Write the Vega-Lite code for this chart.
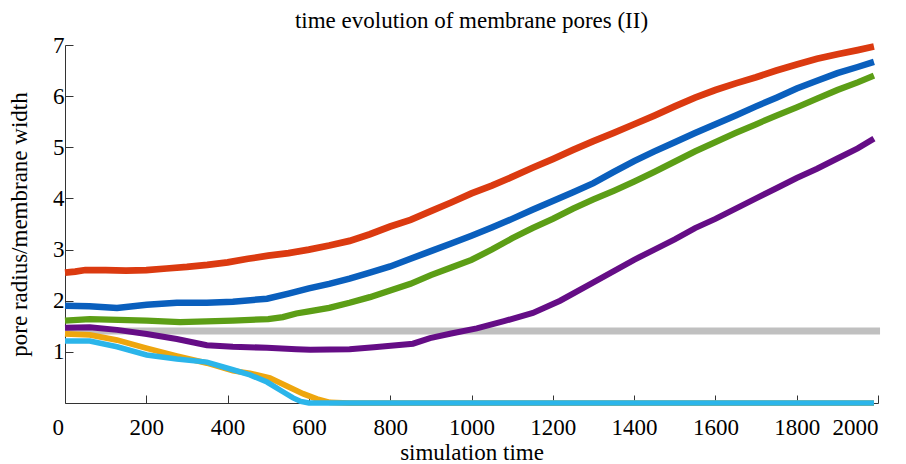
{
  "$schema": "https://vega.github.io/schema/vega-lite/v6.json",
  "width": 813,
  "height": 358,
  "autosize": {"type": "none"},
  "padding": {"left": 65, "top": 45, "right": 28, "bottom": 61},
  "background": "white",
  "title": {"text": "time evolution of membrane pores (II)", "font": "Liberation Serif", "fontSize": 23, "fontWeight": "normal", "color": "#000000", "offset": 0},
  "config": {"view": {"stroke": null}},
  "data": {"values": [
    {"s": "s1", "x": 0, "y": 1.41}, {"s": "s1", "x": 2005, "y": 1.41},

    {"s": "s2", "x": 0, "y": 2.55}, {"s": "s2", "x": 25, "y": 2.57}, {"s": "s2", "x": 50, "y": 2.6}, {"s": "s2", "x": 100, "y": 2.6}, {"s": "s2", "x": 150, "y": 2.59}, {"s": "s2", "x": 200, "y": 2.6}, {"s": "s2", "x": 250, "y": 2.63}, {"s": "s2", "x": 300, "y": 2.66}, {"s": "s2", "x": 350, "y": 2.7}, {"s": "s2", "x": 400, "y": 2.75}, {"s": "s2", "x": 450, "y": 2.82}, {"s": "s2", "x": 500, "y": 2.88}, {"s": "s2", "x": 550, "y": 2.93}, {"s": "s2", "x": 600, "y": 3.0}, {"s": "s2", "x": 650, "y": 3.08}, {"s": "s2", "x": 700, "y": 3.17}, {"s": "s2", "x": 750, "y": 3.3}, {"s": "s2", "x": 800, "y": 3.45}, {"s": "s2", "x": 850, "y": 3.58}, {"s": "s2", "x": 900, "y": 3.75}, {"s": "s2", "x": 950, "y": 3.92}, {"s": "s2", "x": 1000, "y": 4.1}, {"s": "s2", "x": 1050, "y": 4.25}, {"s": "s2", "x": 1100, "y": 4.42}, {"s": "s2", "x": 1150, "y": 4.6}, {"s": "s2", "x": 1200, "y": 4.77}, {"s": "s2", "x": 1250, "y": 4.95}, {"s": "s2", "x": 1300, "y": 5.12}, {"s": "s2", "x": 1350, "y": 5.28}, {"s": "s2", "x": 1400, "y": 5.45}, {"s": "s2", "x": 1450, "y": 5.62}, {"s": "s2", "x": 1500, "y": 5.8}, {"s": "s2", "x": 1550, "y": 5.97}, {"s": "s2", "x": 1600, "y": 6.12}, {"s": "s2", "x": 1650, "y": 6.25}, {"s": "s2", "x": 1700, "y": 6.37}, {"s": "s2", "x": 1750, "y": 6.5}, {"s": "s2", "x": 1800, "y": 6.62}, {"s": "s2", "x": 1850, "y": 6.73}, {"s": "s2", "x": 1900, "y": 6.82}, {"s": "s2", "x": 1950, "y": 6.9}, {"s": "s2", "x": 1990, "y": 6.97},

    {"s": "s3", "x": 0, "y": 1.9}, {"s": "s3", "x": 60, "y": 1.89}, {"s": "s3", "x": 128, "y": 1.86}, {"s": "s3", "x": 201, "y": 1.92}, {"s": "s3", "x": 275, "y": 1.96}, {"s": "s3", "x": 349, "y": 1.96}, {"s": "s3", "x": 413, "y": 1.98}, {"s": "s3", "x": 497, "y": 2.04}, {"s": "s3", "x": 550, "y": 2.14}, {"s": "s3", "x": 600, "y": 2.24}, {"s": "s3", "x": 650, "y": 2.33}, {"s": "s3", "x": 700, "y": 2.43}, {"s": "s3", "x": 750, "y": 2.55}, {"s": "s3", "x": 800, "y": 2.67}, {"s": "s3", "x": 850, "y": 2.82}, {"s": "s3", "x": 900, "y": 2.97}, {"s": "s3", "x": 950, "y": 3.12}, {"s": "s3", "x": 1000, "y": 3.27}, {"s": "s3", "x": 1050, "y": 3.43}, {"s": "s3", "x": 1100, "y": 3.6}, {"s": "s3", "x": 1150, "y": 3.78}, {"s": "s3", "x": 1200, "y": 3.95}, {"s": "s3", "x": 1250, "y": 4.12}, {"s": "s3", "x": 1300, "y": 4.3}, {"s": "s3", "x": 1350, "y": 4.52}, {"s": "s3", "x": 1400, "y": 4.73}, {"s": "s3", "x": 1450, "y": 4.92}, {"s": "s3", "x": 1500, "y": 5.1}, {"s": "s3", "x": 1550, "y": 5.28}, {"s": "s3", "x": 1600, "y": 5.45}, {"s": "s3", "x": 1650, "y": 5.62}, {"s": "s3", "x": 1700, "y": 5.8}, {"s": "s3", "x": 1750, "y": 5.97}, {"s": "s3", "x": 1800, "y": 6.15}, {"s": "s3", "x": 1850, "y": 6.3}, {"s": "s3", "x": 1900, "y": 6.45}, {"s": "s3", "x": 1950, "y": 6.57}, {"s": "s3", "x": 1990, "y": 6.67},

    {"s": "s4", "x": 0, "y": 1.61}, {"s": "s4", "x": 61, "y": 1.64}, {"s": "s4", "x": 201, "y": 1.61}, {"s": "s4", "x": 283, "y": 1.58}, {"s": "s4", "x": 413, "y": 1.61}, {"s": "s4", "x": 500, "y": 1.64}, {"s": "s4", "x": 536, "y": 1.68}, {"s": "s4", "x": 569, "y": 1.75}, {"s": "s4", "x": 600, "y": 1.79}, {"s": "s4", "x": 650, "y": 1.86}, {"s": "s4", "x": 700, "y": 1.96}, {"s": "s4", "x": 750, "y": 2.07}, {"s": "s4", "x": 800, "y": 2.2}, {"s": "s4", "x": 850, "y": 2.33}, {"s": "s4", "x": 900, "y": 2.5}, {"s": "s4", "x": 950, "y": 2.65}, {"s": "s4", "x": 1000, "y": 2.8}, {"s": "s4", "x": 1050, "y": 3.0}, {"s": "s4", "x": 1100, "y": 3.22}, {"s": "s4", "x": 1150, "y": 3.42}, {"s": "s4", "x": 1200, "y": 3.6}, {"s": "s4", "x": 1250, "y": 3.8}, {"s": "s4", "x": 1300, "y": 3.98}, {"s": "s4", "x": 1350, "y": 4.15}, {"s": "s4", "x": 1400, "y": 4.33}, {"s": "s4", "x": 1450, "y": 4.52}, {"s": "s4", "x": 1500, "y": 4.72}, {"s": "s4", "x": 1550, "y": 4.92}, {"s": "s4", "x": 1600, "y": 5.1}, {"s": "s4", "x": 1650, "y": 5.28}, {"s": "s4", "x": 1700, "y": 5.45}, {"s": "s4", "x": 1750, "y": 5.62}, {"s": "s4", "x": 1800, "y": 5.78}, {"s": "s4", "x": 1850, "y": 5.95}, {"s": "s4", "x": 1900, "y": 6.12}, {"s": "s4", "x": 1950, "y": 6.27}, {"s": "s4", "x": 1990, "y": 6.4},

    {"s": "s5", "x": 0, "y": 1.47}, {"s": "s5", "x": 61, "y": 1.48}, {"s": "s5", "x": 128, "y": 1.43}, {"s": "s5", "x": 201, "y": 1.35}, {"s": "s5", "x": 275, "y": 1.25}, {"s": "s5", "x": 349, "y": 1.13}, {"s": "s5", "x": 413, "y": 1.1}, {"s": "s5", "x": 497, "y": 1.08}, {"s": "s5", "x": 569, "y": 1.05}, {"s": "s5", "x": 603, "y": 1.04}, {"s": "s5", "x": 700, "y": 1.05}, {"s": "s5", "x": 760, "y": 1.09}, {"s": "s5", "x": 856, "y": 1.16}, {"s": "s5", "x": 898, "y": 1.27}, {"s": "s5", "x": 950, "y": 1.36}, {"s": "s5", "x": 1013, "y": 1.46}, {"s": "s5", "x": 1080, "y": 1.6}, {"s": "s5", "x": 1151, "y": 1.76}, {"s": "s5", "x": 1218, "y": 2.0}, {"s": "s5", "x": 1300, "y": 2.36}, {"s": "s5", "x": 1350, "y": 2.58}, {"s": "s5", "x": 1400, "y": 2.8}, {"s": "s5", "x": 1450, "y": 3.0}, {"s": "s5", "x": 1500, "y": 3.2}, {"s": "s5", "x": 1550, "y": 3.42}, {"s": "s5", "x": 1600, "y": 3.6}, {"s": "s5", "x": 1650, "y": 3.8}, {"s": "s5", "x": 1700, "y": 4.0}, {"s": "s5", "x": 1750, "y": 4.2}, {"s": "s5", "x": 1800, "y": 4.4}, {"s": "s5", "x": 1850, "y": 4.58}, {"s": "s5", "x": 1900, "y": 4.78}, {"s": "s5", "x": 1950, "y": 4.98}, {"s": "s5", "x": 1990, "y": 5.17},

    {"s": "s6", "x": 0, "y": 1.35}, {"s": "s6", "x": 61, "y": 1.33}, {"s": "s6", "x": 128, "y": 1.23}, {"s": "s6", "x": 201, "y": 1.07}, {"s": "s6", "x": 275, "y": 0.92}, {"s": "s6", "x": 349, "y": 0.78}, {"s": "s6", "x": 413, "y": 0.63}, {"s": "s6", "x": 455, "y": 0.58}, {"s": "s6", "x": 504, "y": 0.49}, {"s": "s6", "x": 546, "y": 0.33}, {"s": "s6", "x": 586, "y": 0.18}, {"s": "s6", "x": 620, "y": 0.08}, {"s": "s6", "x": 652, "y": 0.01}, {"s": "s6", "x": 700, "y": 0}, {"s": "s6", "x": 1990, "y": 0},

    {"s": "s7", "x": 0, "y": 1.21}, {"s": "s7", "x": 61, "y": 1.21}, {"s": "s7", "x": 128, "y": 1.1}, {"s": "s7", "x": 201, "y": 0.94}, {"s": "s7", "x": 275, "y": 0.86}, {"s": "s7", "x": 349, "y": 0.8}, {"s": "s7", "x": 413, "y": 0.65}, {"s": "s7", "x": 455, "y": 0.55}, {"s": "s7", "x": 497, "y": 0.41}, {"s": "s7", "x": 536, "y": 0.22}, {"s": "s7", "x": 561, "y": 0.1}, {"s": "s7", "x": 580, "y": 0.03}, {"s": "s7", "x": 600, "y": 0}, {"s": "s7", "x": 1990, "y": 0}
  ]},
  "mark": {"type": "line", "strokeCap": "butt", "clip": false},
  "encoding": {
    "x": {"field": "x", "type": "quantitative", "scale": {"domain": [0, 2000], "nice": false},
      "axis": {"title": "simulation time", "values": [0, 200, 400, 600, 800, 1000, 1200, 1400, 1600, 1800, 2000], "format": "d", "grid": false,
        "tickSize": -8, "tickColor": "#333333", "domainColor": "#333333", "labelPadding": 21,
        "labelFont": "Liberation Serif", "labelFontSize": 23, "labelColor": "#000000",
        "labelOffset": {"condition": {"test": "datum.value === 0", "value": -13}, "value": 0},
        "titleFont": "Liberation Serif", "titleFontSize": 23, "titleFontWeight": "normal", "titleColor": "#000000", "titlePadding": 2}},
    "y": {"field": "y", "type": "quantitative", "scale": {"domain": [0, 7], "nice": false},
      "axis": {"title": "pore radius/membrane width", "values": [1, 2, 3, 4, 5, 6, 7], "format": "d", "grid": false,
        "tickSize": -8, "tickColor": "#333333", "domainColor": "#333333", "labelPadding": 9,
        "labelFont": "Liberation Serif", "labelFontSize": 23, "labelColor": "#000000",
        "titleFont": "Liberation Serif", "titleFontSize": 23, "titleFontWeight": "normal", "titleColor": "#000000", "titlePadding": 21}},
    "color": {"field": "s", "type": "nominal", "legend": null,
      "scale": {"domain": ["s1", "s2", "s3", "s4", "s5", "s6", "s7"],
        "range": ["#c0c0c0", "#db3a10", "#0a5fbd", "#5c9e16", "#650d86", "#eea60e", "#2bb5ea"]}},
    "strokeWidth": {"field": "s", "type": "nominal", "legend": null,
      "scale": {"domain": ["s1", "s2", "s3", "s4", "s5", "s6", "s7"], "range": [7, 5.5, 5.5, 5.5, 5.5, 5.5, 5.5]}},
    "order": {"field": "x", "type": "quantitative"}
  }
}
